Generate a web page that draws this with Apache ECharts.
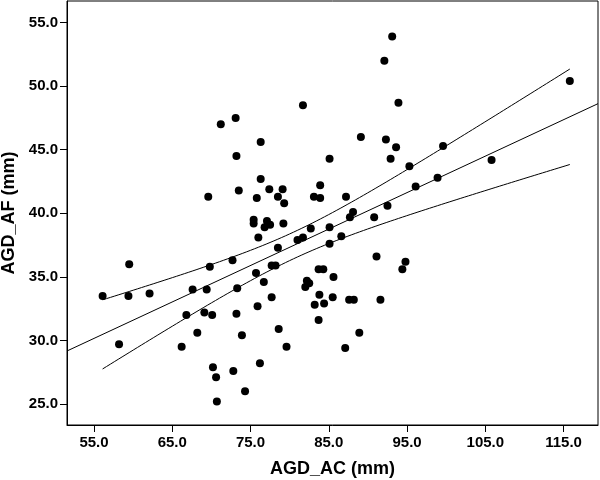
<!DOCTYPE html>
<html><head><meta charset="utf-8">
<script src="https://cdn.jsdelivr.net/npm/echarts@6/dist/echarts.min.js"></script>
<style>html,body{margin:0;padding:0;background:#fff}#c{width:600px;height:480px}</style>
</head><body><div id="c"></div>
<script>
// AGD_AC (mm)
const agdAC = [81.7,71.2,73.1,76.3,73.2,85.1,76.3,83.9,73.5,77.4,79.1,69.6,75.8,78.5,79.3,83.1,83.9,75.4,75.4,77.1,
76.8,77.5,79.2,93.1,92.1,115.8,93.9,89.1,92.3,93.6,92.9,99.6,95.3,105.8,98.9,96.1,87.2,88.1,92.5,87.7,
90.8,76.0,85.1,82.7,81.0,81.7,85.1,78.5,72.7,69.8,59.5,77.7,78.2,75.7,83.7,84.3,76.7,82.2,82.5,82.0,
56.1,59.4,62.1,67.6,69.4,73.3,77.7,83.8,83.2,84.4,66.8,69.1,70.1,73.2,75.9,83.7,68.2,73.9,78.6,58.2,
66.2,79.6,70.2,70.6,72.8,76.2,74.3,70.7,86.6,91.1,94.8,94.4,85.6,85.5,87.6,88.2,91.6,88.9,87.1];
// AGD_AF (mm)
const agdAF = [48.5,47.0,47.5,45.6,44.5,44.3,42.7,42.2,41.8,41.9,41.9,41.3,41.2,41.3,40.8,41.3,41.2,39.5,39.2,39.4,
38.9,39.1,39.2,53.9,52.0,50.4,48.7,46.0,45.8,45.2,44.3,45.3,43.7,44.2,42.8,42.1,41.3,40.1,40.6,39.7,
39.7,38.1,38.9,38.8,37.9,38.1,37.6,37.3,36.3,35.8,36.0,35.9,35.9,35.3,35.6,35.6,34.6,34.7,34.5,34.2,
33.5,33.5,33.7,34.0,34.0,34.1,33.4,33.6,32.8,32.9,32.0,32.2,32.0,32.1,32.7,31.6,30.6,30.4,30.9,29.7,
29.5,29.5,27.9,27.1,27.6,28.2,26.0,25.2,38.2,36.6,36.2,35.6,35.0,33.4,33.2,33.2,33.2,30.6,29.4];
const xTicks = [55,65,75,85,95,105,115];
const yTicks = [25,30,35,40,45,50,55];
const xRange = [51.55, 119.4];
const yRange = [23.35, 56.7];

// linear regression with 95% CI of the mean
const n = agdAC.length;
const mx = agdAC.reduce((a,b)=>a+b,0)/n, my = agdAF.reduce((a,b)=>a+b,0)/n;
let sxx=0, sxy=0;
for(let i=0;i<n;i++){sxx+=(agdAC[i]-mx)**2; sxy+=(agdAC[i]-mx)*(agdAF[i]-my);}
const b1 = sxy/sxx, b0 = my-b1*mx;
let sse=0; for(let i=0;i<n;i++){sse+=(agdAF[i]-b0-b1*agdAC[i])**2;}
const s = Math.sqrt(sse/(n-2)), tval = 1.985;
const fit = x=>b0+b1*x;
const hw = x=>tval*s*Math.sqrt(1/n+(x-mx)**2/sxx);
const xmin = Math.min(...agdAC), xmax = Math.max(...agdAC);
const up=[], lo=[];
for(let k=0;k<=120;k++){const x=xmin+(xmax-xmin)*k/120; up.push([x,fit(x)+hw(x)]); lo.push([x,fit(x)-hw(x)]);}
const pts = agdAC.map((x,i)=>[x,agdAF[i]]);

const lbl = {fontFamily:'Liberation Sans',fontWeight:'bold',fontSize:15,color:'#000'};
const ttl = {fontFamily:'Liberation Sans',fontWeight:'bold',fontSize:18,color:'#000'};
const chart = echarts.init(document.getElementById('c'),null,{renderer:'canvas'});
chart.setOption({
  animation:false,
  grid:{left:67,right:2,top:1,bottom:55,containLabel:false,outerBoundsMode:'none',
    show:true,borderColor:'#000',borderWidth:1,backgroundColor:'transparent'},
  xAxis:{type:'value',min:xRange[0],max:xRange[1],
    name:'AGD_AC (mm)',nameLocation:'middle',nameGap:35,nameTextStyle:ttl,
    axisLine:{show:true,lineStyle:{color:'#000',width:1}},
    axisTick:{show:true,length:7,lineStyle:{color:'#000'},customValues:xTicks},
    axisLabel:{...lbl,margin:10,customValues:xTicks,formatter:v=>v.toFixed(1)},
    splitLine:{show:false}},
  yAxis:{type:'value',min:yRange[0],max:yRange[1],
    name:'AGD_AF (mm)',nameLocation:'middle',nameGap:47,nameTextStyle:ttl,
    axisLine:{show:true,lineStyle:{color:'#000',width:1}},
    axisTick:{show:true,length:7,lineStyle:{color:'#000'},customValues:yTicks},
    axisLabel:{...lbl,margin:9,customValues:yTicks,formatter:v=>v.toFixed(1)},
    splitLine:{show:false}},
  series:[
    {type:'line',data:[[xRange[0],fit(xRange[0])],[xRange[1],fit(xRange[1])]],showSymbol:false,symbol:'none',
      lineStyle:{color:'#000',width:1},z:3,silent:true},
    {type:'line',data:up,showSymbol:false,symbol:'none',lineStyle:{color:'#000',width:1},z:3,silent:true},
    {type:'line',data:lo,showSymbol:false,symbol:'none',lineStyle:{color:'#000',width:1},z:3,silent:true},
    {type:'scatter',data:pts,symbol:'circle',symbolSize:8,itemStyle:{color:'#000',opacity:1},z:5}
  ]
});
</script></body></html>
